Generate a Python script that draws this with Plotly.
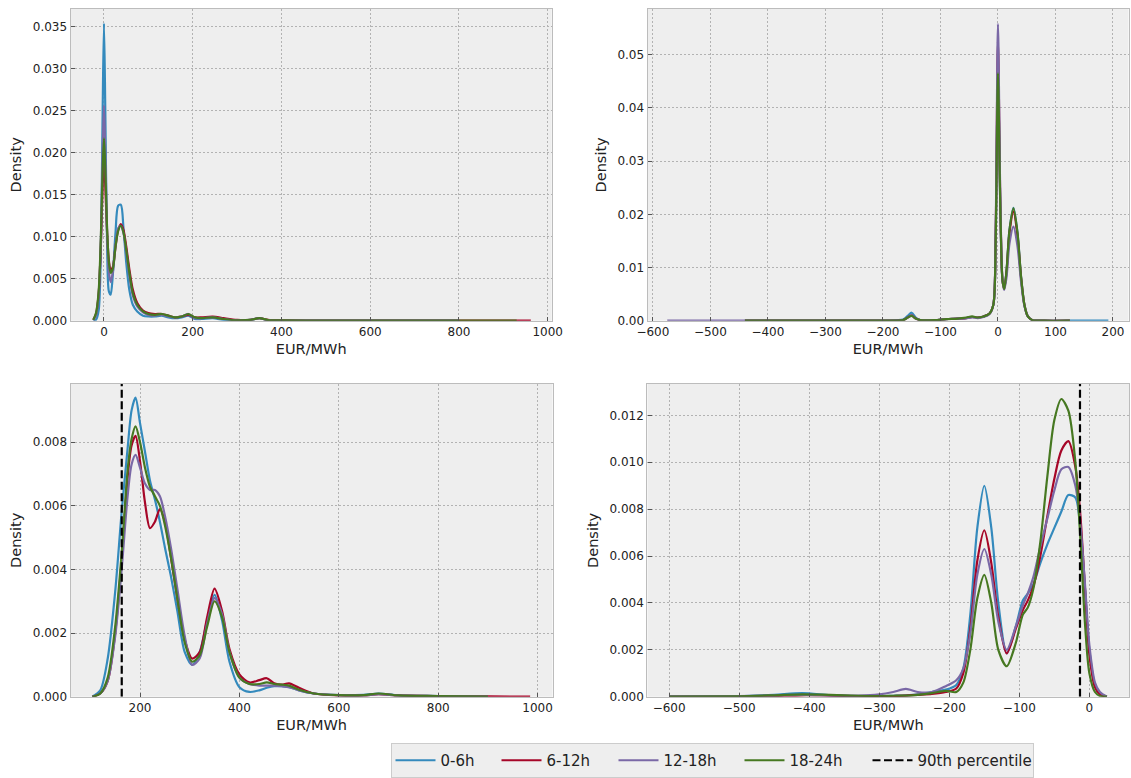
import plotly.graph_objects as go

# Series labels and bmh-style colours
hours = ["0-6h", "6-12h", "12-18h", "18-24h"]
colors = ["#348ABD", "#A60628", "#7A68A6", "#467821"]
legend_widths = [51, 62, 71, 73]

# ---------- Panel A (top left): price grid and densities ----------
price_a = [-24, -18, -12, -7, -3, 0, 3, 7, 11, 15, 20, 26, 32, 38, 44, 50, 57, 65, 75, 88,
           100, 115, 130, 145, 160, 175, 190, 205, 220, 245, 270, 300, 330, 350, 370, 400,
           500, 600, 700, 800, 930, 962]
a_0_6 = [0, 0.0001, 0.0012, 0.0085, 0.025, 0.0354, 0.025, 0.009, 0.0035, 0.0031, 0.0055, 0.0105,
         0.0137, 0.0138, 0.0110, 0.0070, 0.0037, 0.0019, 0.0011, 0.0006, 0.0005, 0.0005, 0.0006,
         0.0004, 0.0003, 0.0004, 0.0006, 0.0002, 0.0002, 0.0003, 0.0001, 0.00005, 0.0001, 0.0003,
         0.00005, 0.00002, 0.00001, 0, 0, 0, None, None]
a_6_12 = [0.0001, 0.0008, 0.0032, 0.009, 0.016, 0.0194, 0.016, 0.0105, 0.0072, 0.0060, 0.0064,
          0.0088, 0.0108, 0.0115, 0.0108, 0.0089, 0.0062, 0.0037, 0.0021, 0.0012, 0.0009, 0.0008,
          0.0008, 0.0006, 0.0004, 0.0005, 0.0007, 0.0004, 0.0004, 0.0005, 0.0003, 0.0001, 0.0001,
          0.0003, 0.0001, 0.00004, 0.00002, 0.00001, 0.00001, 0.00001, 0.00001, 0]
a_12_18 = [0.0001, 0.0006, 0.0030, 0.0095, 0.020, 0.0256, 0.020, 0.0105, 0.0058, 0.0046, 0.0058,
           0.0090, 0.0110, 0.0113, 0.0104, 0.0082, 0.0054, 0.0030, 0.0017, 0.0010, 0.0007, 0.0006,
           0.0007, 0.0005, 0.0004, 0.0005, 0.0008, 0.0003, 0.0003, 0.0004, 0.0002, 0.00005, 0.0001,
           0.0003, 0.00006, 0.00002, 0.00001, 0, 0, 0, None, None]
a_18_24 = [0.0001, 0.0009, 0.0035, 0.0100, 0.018, 0.0217, 0.018, 0.0110, 0.0070, 0.0057, 0.0062,
           0.0088, 0.0107, 0.0113, 0.0105, 0.0085, 0.0058, 0.0033, 0.0019, 0.0011, 0.0008, 0.0007,
           0.0008, 0.0006, 0.0004, 0.0005, 0.0008, 0.0004, 0.0003, 0.0004, 0.0002, 0.00005, 0.0001,
           0.0003, 0.00008, 0.00003, 0.00002, 0.00001, 0.00001, 0.00001, 0, None]

# ---------- Panel B (top right) ----------
price_b = [-575, -500, -440, -400, -300, -200, -165, -157, -150, -143, -135, -110, -90, -70, -55,
           -45, -35, -25, -15, -8, -4, 0, 4, 8, 11, 15, 20, 27, 34, 40, 46, 52, 60, 80, 125, 192]
b_0_6 = [None, None, 0, 0, 0, 0.00003, 0.0002, 0.0009, 0.0015, 0.0006, 0.0001, 0.0001, 0.0003,
         0.0004, 0.0005, 0.0007, 0.0006, 0.0008, 0.0013, 0.003, 0.015, 0.0475, 0.022, 0.0075,
         0.0062, 0.0095, 0.017, 0.0212, 0.0165, 0.0085, 0.003, 0.0008, 0.0001, 0, 0, 0]
b_6_12 = [None, None, 0, 0, 0, 0.00002, 0.0001, 0.0006, 0.0010, 0.0004, 0.0001, 0.0001, 0.0003,
          0.0004, 0.0005, 0.0007, 0.0006, 0.0008, 0.0013, 0.003, 0.016, 0.0525, 0.023, 0.0075,
          0.006, 0.0092, 0.0165, 0.0205, 0.016, 0.0083, 0.003, 0.0008, 0.0001, 0, 0, None]
b_12_18 = [0, 0, 0, 0, 0, 0.00002, 0.0001, 0.0006, 0.0010, 0.0004, 0.0001, 0.0001, 0.0003,
           0.0004, 0.0005, 0.0006, 0.0005, 0.0007, 0.0012, 0.003, 0.017, 0.0558, 0.024, 0.0075,
           0.0058, 0.0082, 0.0145, 0.0177, 0.014, 0.0075, 0.0028, 0.0008, 0.0001, 0, 0, None]
b_18_24 = [None, None, 0, 0, 0, 0.00002, 0.0001, 0.0006, 0.0009, 0.0004, 0.0001, 0.0001, 0.0003,
           0.0004, 0.0006, 0.0008, 0.0006, 0.0008, 0.0013, 0.003, 0.015, 0.0465, 0.022, 0.0075,
           0.0060, 0.0095, 0.0170, 0.0211, 0.0165, 0.0085, 0.003, 0.0008, 0.0001, 0, 0, None]

# ---------- Panel C (bottom left) ----------
price_c = [104, 120, 135, 150, 163, 175, 183, 191, 200, 210, 220, 230, 240, 250, 262, 275, 290,
           305, 320, 335, 350, 365, 380, 400, 420, 440, 455, 470, 485, 500, 520, 550, 600, 650,
           680, 720, 800, 900, 985]
c_0_6 = [0, 0.0002, 0.0012, 0.0033, 0.0058, 0.0078, 0.0090, 0.0094, 0.0086, 0.0077, 0.0068,
         0.0062, 0.0055, 0.0047, 0.0038, 0.0027, 0.0014, 0.0010, 0.0014, 0.0024, 0.0032, 0.0024,
         0.0011, 0.0003, 0.00015, 0.0002, 0.00028, 0.00033, 0.00033, 0.0003, 0.0002, 0.0001,
         0.00005, 0.00006, 0.0001, 0.00004, 0.00002, 0, None]
c_6_12 = [0, 0.0001, 0.0005, 0.0020, 0.0043, 0.0069, 0.0079, 0.0082, 0.0074, 0.0061, 0.0053,
          0.0055, 0.0059, 0.0055, 0.0044, 0.0031, 0.0018, 0.0012, 0.0014, 0.0025, 0.0034, 0.0027,
          0.0015, 0.0007, 0.00045, 0.00052, 0.00058, 0.00042, 0.00038, 0.00042, 0.00028, 0.0001,
          0.00004, 0.00004, 0.00008, 0.00004, 0.00002, 0.00001, 0]
c_12_18 = [0, 0.0001, 0.0005, 0.0019, 0.0040, 0.0063, 0.0073, 0.0076, 0.0072, 0.0067, 0.0065,
           0.0065, 0.0063, 0.0057, 0.0047, 0.0034, 0.0019, 0.0010, 0.0012, 0.0023, 0.0031, 0.0026,
           0.0014, 0.0006, 0.0004, 0.00035, 0.00035, 0.00035, 0.00033, 0.0003, 0.0002, 0.0001,
           0.00005, 0.00004, 0.00008, 0.00004, 0.00002, 0, None]
c_18_24 = [0, 0.0001, 0.0006, 0.0022, 0.0045, 0.0071, 0.0081, 0.0085, 0.0080, 0.0072, 0.0066,
           0.0063, 0.0060, 0.0054, 0.0044, 0.0031, 0.0017, 0.0011, 0.0013, 0.0022, 0.0030, 0.0025,
           0.0014, 0.0006, 0.0004, 0.0004, 0.00045, 0.0004, 0.00038, 0.00035, 0.00022, 0.0001,
           0.00005, 0.00005, 0.0001, 0.00004, 0.00002, 0, None]
p90_c = 163.2

# ---------- Panel D (bottom right) ----------
price_d = [-600, -500, -450, -410, -370, -330, -300, -280, -262, -245, -225, -205, -190, -180,
           -170, -160, -150, -140, -130, -118, -105, -95, -88, -80, -70, -60, -50, -40, -30, -20,
           -13, -6, 0, 8, 15, 25]
d_0_6 = [0, 0.00002, 0.00008, 0.00015, 0.00006, 0.00002, 0.00002, 0.00004, 0.00006, 0.0001,
         0.0002, 0.0003, 0.0005, 0.0012, 0.0035, 0.0072, 0.0090, 0.0072, 0.0040, 0.00185, 0.0030,
         0.0041, 0.0044, 0.0048, 0.0057, 0.0065, 0.0072, 0.0079, 0.0086, 0.0085, 0.0072, 0.0045,
         0.0020, 0.0005, 0.0001, 0]
d_6_12 = [0, 0, 0.00003, 0.00006, 0.00005, 0.00002, 0.00002, 0.00003, 0.00005, 0.00008, 0.00012,
          0.0002, 0.00035, 0.001, 0.0029, 0.0058, 0.0071, 0.0057, 0.0034, 0.00185, 0.0029, 0.0037,
          0.0041, 0.0047, 0.0060, 0.0077, 0.0093, 0.0105, 0.0109, 0.0098, 0.0078, 0.0045, 0.0018,
          0.0004, 0.0001, 0]
d_12_18 = [0.00002, 0.00003, 0.00005, 0.00008, 0.00006, 0.00005, 0.0001, 0.0002, 0.00033, 0.0002,
           0.0002, 0.00045, 0.0007, 0.0012, 0.0027, 0.0052, 0.0063, 0.0052, 0.0032, 0.0020,
           0.0030, 0.0039, 0.0044, 0.0051, 0.0064, 0.0076, 0.0088, 0.0097, 0.0098, 0.0090, 0.0074,
           0.0047, 0.0022, 0.0006, 0.0002, 0]
d_18_24 = [0, 0.00002, 0.00006, 0.0001, 0.00008, 0.00004, 0.00003, 0.00004, 0.00005, 0.00008,
           0.00015, 0.00025, 0.0002, 0.0006, 0.0020, 0.0042, 0.0052, 0.0040, 0.0020, 0.0013,
           0.0023, 0.0035, 0.0038, 0.0046, 0.0066, 0.0094, 0.0118, 0.0127, 0.0122, 0.0100, 0.0068,
           0.0030, 0.0010, 0.0002, 0.00003, 0]
p90_d = -13.4

panels = [
    (price_a, [a_0_6, a_6_12, a_12_18, a_18_24], None),
    (price_b, [b_0_6, b_6_12, b_12_18, b_18_24], None),
    (price_c, [c_0_6, c_6_12, c_12_18, c_18_24], p90_c),
    (price_d, [d_0_6, d_6_12, d_12_18, d_18_24], p90_d),
]

# Axis ranges and ticks per panel
x_ranges = [[-75, 1009], [-609, 227], [60.5, 1030], [-631, 57]]
y_ranges = [[0, 0.0371], [0, 0.0586], [0, 0.00983], [0, 0.01334]]
x_dticks = [200, 100, 200, 100]
y_dticks = [0.005, 0.01, 0.002, 0.002]
y_formats = [".3f", ".2f", ".3f", ".3f"]

W, H = 1131, 778
x_domains = [[70.7, 551.7], [647.7, 1128.5], [70.7, 552.5], [647.4, 1129.3]]
y_domains = [[9, 320.7], [9, 320.7], [384, 696.7], [384, 696.7]]

fig = go.Figure()

for p, (xs, series, p90) in enumerate(panels):
    sfx = "" if p == 0 else str(p + 1)
    for k, ys in enumerate(series):
        fig.add_trace(go.Scatter(
            x=xs, y=ys, mode="lines", name=hours[k], legendgroup=hours[k],
            showlegend=(p == 0), legendwidth=legend_widths[k],
            line=dict(color=colors[k], width=2.2, shape="spline", smoothing=0.8),
            xaxis="x" + sfx, yaxis="y" + sfx,
        ))
    if p90 is not None:
        fig.add_trace(go.Scatter(
            x=[p90, p90], y=[0, y_ranges[p][1]], mode="lines", name="90th percentile",
            legendgroup="p90", showlegend=(p == 2), legendwidth=110,
            line=dict(color="black", width=2.2, dash="8px,3.5px"),
            xaxis="x" + sfx, yaxis="y" + sfx,
        ))

axis_common = dict(
    showline=True, mirror=True, linecolor="#bcbcbc", linewidth=1.3,
    showgrid=True, gridcolor="#b2b2b2", gridwidth=0.8, griddash="2px,2px",
    zeroline=False, ticks="inside", ticklen=4, tickcolor="#555555",
    tickfont=dict(family="DejaVu Sans", size=12, color="#222222"),
    automargin=False,
)

layout = dict(
    width=W, height=H, margin=dict(l=0, r=0, t=0, b=0),
    paper_bgcolor="white", plot_bgcolor="#eeeeee",
    font=dict(family="DejaVu Sans", color="#222222"),
    legend=dict(
        orientation="h", x=390.5 / W, xanchor="left", y=0, yanchor="bottom",
        itemwidth=40,
        bgcolor="#eeeeee", bordercolor="#cccccc", borderwidth=1,
        font=dict(family="DejaVu Sans", size=15, color="#222222"),
    ),
)

for p in range(4):
    sfx = "" if p == 0 else str(p + 1)
    xd = [x_domains[p][0] / W, x_domains[p][1] / W]
    yd = [1 - y_domains[p][1] / H, 1 - y_domains[p][0] / H]
    layout["xaxis" + sfx] = dict(
        axis_common, domain=xd, range=x_ranges[p], dtick=x_dticks[p], tick0=0,
        anchor="y" + sfx,
        title=dict(text="EUR/MWh", font=dict(size=14.5), standoff=5),
    )
    layout["yaxis" + sfx] = dict(
        axis_common, domain=yd, range=y_ranges[p], dtick=y_dticks[p], tick0=0,
        tickformat=y_formats[p], anchor="x" + sfx,
        title=dict(text="Density", font=dict(size=14.5), standoff=7),
    )

fig.update_layout(**layout)
fig.write_html("out.html")
